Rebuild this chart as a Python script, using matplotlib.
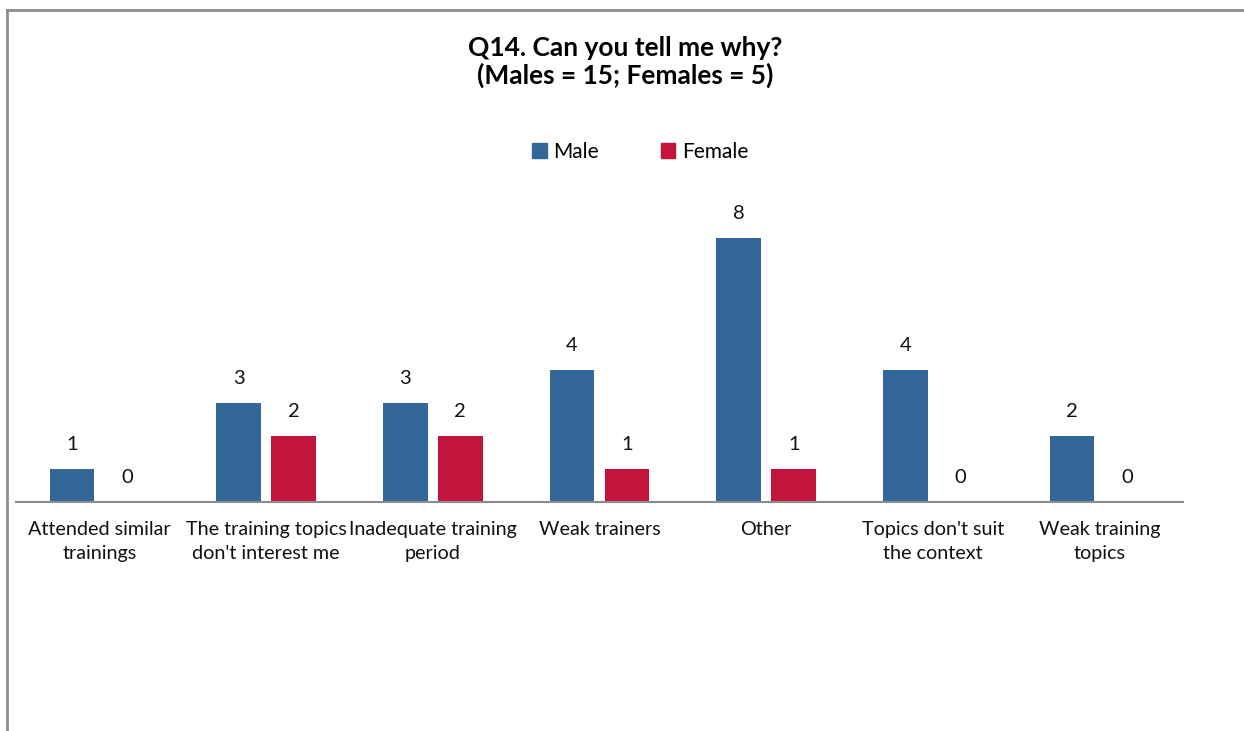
import matplotlib
matplotlib.use("Agg")
import matplotlib.pyplot as plt
from matplotlib.lines import Line2D
from matplotlib.patches import Patch
import numpy as np

categories = [
    "Attended similar\ntrainings",
    "The training topics\ndon't interest me",
    "Inadequate training\nperiod",
    "Weak trainers",
    "Other",
    "Topics don't suit\nthe context",
    "Weak training\ntopics",
]
male = [1, 3, 3, 4, 8, 4, 2]
female = [0, 2, 2, 1, 1, 0, 0]
series_names = ["Male", "Female"]
title = "Q14. Can you tell me why?\n(Males = 15; Females = 5)"

MALE_COLOR = "#336699"
FEMALE_COLOR = "#C3143B"
FONT = ["Lato", "DejaVu Sans"]

W, H = 1244, 731
fig = plt.figure(figsize=(W / 100, H / 100), dpi=100)
fig.patch.set_facecolor("white")

# plot area in pixel terms
left_px, right_px = 16, 1183
base_px = 502
unit_px = 33
ymax = 9
ax = fig.add_axes([left_px / W, (H - base_px) / H,
                   (right_px - left_px) / W, ymax * unit_px / H])

x = np.arange(len(categories))
bw = 0.268
off = 0.165
b1 = ax.bar(x - off, male, width=bw, color=MALE_COLOR, zorder=2)
b2 = ax.bar(x + off, female, width=bw, color=FEMALE_COLOR, zorder=2)

for bars, vals in ((b1, male), (b2, female)):
    for rect, v in zip(bars, vals):
        ax.text(rect.get_x() + rect.get_width() / 2, v + 0.74, str(v),
                ha="center", va="center", fontsize=14.5, family=FONT,
                color="#111111")

ax.set_xlim(-0.5, len(categories) - 0.5)
ax.set_ylim(0, ymax)
ax.set_yticks([])
ax.set_xticks(x)
ax.set_xticklabels(categories, fontsize=14.2, family=FONT, color="#111111",
                   linespacing=1.5)
ax.tick_params(axis="x", length=0, pad=14)
for s in ("top", "right", "left"):
    ax.spines[s].set_visible(False)
ax.spines["bottom"].set_color("#8C8C8C")
ax.spines["bottom"].set_linewidth(1.5)
ax.set_facecolor("none")

fig.text(625 / W, 1 - 62 / H, title, ha="center", va="center",
         fontsize=19, fontweight="bold", family=FONT, linespacing=1.15)

handles = [Patch(color=MALE_COLOR, label=series_names[0]),
           Patch(color=FEMALE_COLOR, label=series_names[1])]
fig.legend(handles=handles, loc="center", bbox_to_anchor=(640 / W, 1 - 152 / H),
           ncol=2, frameon=False, prop={"family": FONT, "size": 15},
           handlelength=0.7, handleheight=0.7, handletextpad=0.3,
           columnspacing=3.0)

# outer chart frame (left and top edges)
fig.add_artist(Line2D([7 / W, 7 / W], [0, 1 - 9.5 / H], transform=fig.transFigure,
                      color="#8C8C8C", lw=2))
fig.add_artist(Line2D([7 / W, 1], [1 - 9.5 / H, 1 - 9.5 / H], transform=fig.transFigure,
                      color="#8C8C8C", lw=2))

fig.savefig("out.png", dpi=100)
